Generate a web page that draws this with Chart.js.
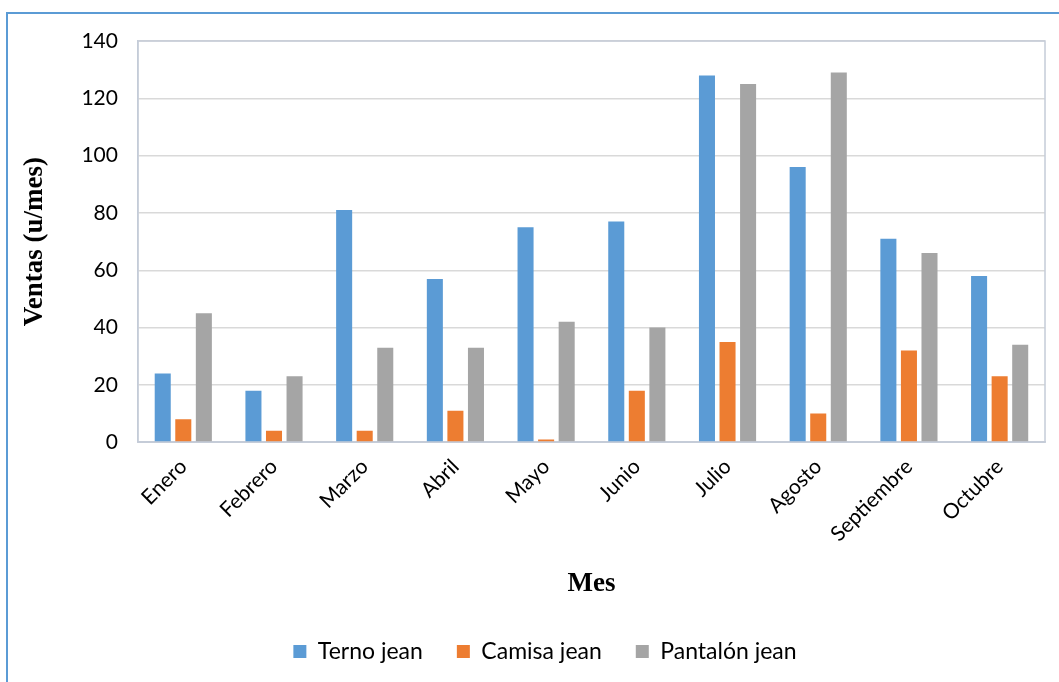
<!DOCTYPE html>
<html>
<head>
<meta charset="utf-8">
<script src="https://cdn.jsdelivr.net/npm/chart.js@4"></script>
<style>
  html, body { margin: 0; padding: 0; background: #fff; overflow: hidden; }
  #frame { position: absolute; left: 6px; top: 12px; width: 1200px; height: 800px; border: 2px solid #5b9bd5; box-sizing: border-box; }
  #wrap { position: absolute; left: 0; top: 0; width: 1059px; height: 682px; }
</style>
</head>
<body>
<div id="frame"></div>
<div id="wrap"><canvas id="ventasChart"></canvas></div>
<script>
// Data
const meses = ['Enero', 'Febrero', 'Marzo', 'Abril', 'Mayo', 'Junio', 'Julio', 'Agosto', 'Septiembre', 'Octubre'];
const ternoJean = [24, 18, 81, 57, 75, 77, 128, 96, 71, 58];
const camisaJean = [8, 4, 4, 11, 1, 18, 35, 10, 32, 23];
const pantalonJean = [45, 23, 33, 33, 42, 40, 125, 129, 66, 34];
const yTicks = [0, 20, 40, 60, 80, 100, 120, 140];

// box around the plot area
const plotBorder = {
    id: 'plotBorder',
    afterDraw(chart) {
        const a = chart.chartArea;
        const ctx = chart.ctx;
        ctx.save();
        ctx.strokeStyle = '#c5ccd8';
        ctx.lineWidth = 1.5;
        ctx.strokeRect(a.left, a.top, a.right - a.left, a.bottom - a.top);
        ctx.restore();
    }
};

// legend sits a bit right of center in the original
const legendShift = {
    id: 'legendShift',
    afterLayout(chart) {
        if (chart.legend) {
            chart.legend.left += 30;
            chart.legend.right += 0;
        }
    }
};

const ctx = document.getElementById('ventasChart').getContext('2d');
new Chart(ctx, {
    type: 'bar',
    data: {
        labels: meses,
        datasets: [
            { label: 'Terno jean', data: ternoJean, backgroundColor: '#5b9bd5' },
            { label: 'Camisa jean', data: camisaJean, backgroundColor: '#ed7d31' },
            { label: 'Pantalón jean', data: pantalonJean, backgroundColor: '#a5a5a5' }
        ]
    },
    options: {
        responsive: true,
        maintainAspectRatio: false,
        animation: false,
        datasets: {
            bar: { categoryPercentage: 0.68, barPercentage: 0.78 }
        },
        layout: { padding: { top: 41, right: 14, left: 15, bottom: 9 } },
        plugins: {
            legend: {
                position: 'bottom',
                labels: {
                    boxWidth: 13,
                    boxHeight: 13,
                    padding: 34,
                    color: '#000',
                    font: { family: 'Lato', size: 23 }
                }
            },
            tooltip: { enabled: false }
        },
        scales: {
            x: {
                grid: { display: false },
                border: { color: '#c5ccd8', width: 1.5 },
                ticks: {
                    minRotation: 45,
                    maxRotation: 45,
                    padding: 4,
                    color: '#000',
                    font: { family: 'Lato', size: 21 }
                },
                title: {
                    display: true,
                    text: 'Mes',
                    color: '#000',
                    font: { family: 'Liberation Serif', size: 27, weight: 'bold' },
                    padding: { top: 17, bottom: 6 }
                }
            },
            y: {
                min: 0,
                max: 140,
                afterBuildTicks(axis) {
                    axis.ticks = yTicks.map(v => ({ value: v }));
                },
                grid: { color: '#d9d9d9', lineWidth: 1.5, drawTicks: false },
                border: { color: '#c5ccd8', width: 1.5 },
                ticks: {
                    padding: 20,
                    color: '#000',
                    font: { family: 'Lato', size: 21 }
                },
                title: {
                    display: true,
                    text: 'Ventas (u/mes)',
                    color: '#000',
                    font: { family: 'Liberation Serif', size: 27, weight: 'bold' },
                    padding: { bottom: 10 }
                }
            }
        }
    },
    plugins: [plotBorder, legendShift]
});
</script>
</body>
</html>
